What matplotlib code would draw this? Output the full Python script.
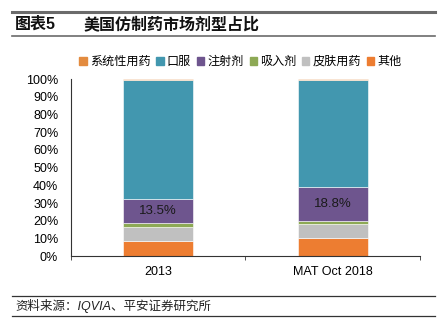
import matplotlib
matplotlib.use("Agg")
import matplotlib.pyplot as plt
from matplotlib.lines import Line2D
from matplotlib.patches import Patch

plt.rcParams['font.family'] = ['Liberation Sans', 'Noto Sans CJK SC', 'DejaVu Sans']

# 剂型占比（%），自下而上堆叠
categories = ['2013', 'MAT Oct 2018']
other = [8.5, 10.4]        # 其他
skin = [7.7, 7.7]          # 皮肤用药
inhal = [2.5, 1.9]         # 吸入剂
inject = [13.5, 18.8]      # 注射剂
oral = [67.2, 60.6]        # 口服
systemic = [0.6, 0.6]      # 系统性用药

series = [
    ('其他', other, '#ED7D31'),
    ('皮肤用药', skin, '#C0C0C0'),
    ('吸入剂', inhal, '#8DA955'),
    ('注射剂', inject, '#6E558E'),
    ('口服', oral, '#4297AF'),
    ('系统性用药', systemic, '#E38B3F'),
]

fig = plt.figure(figsize=(4.38, 3.27), dpi=100)
ax = fig.add_axes([0.1614, 0.217, 0.7976, 0.5405])

x = range(len(categories))
bottom = [0.0] * len(categories)
for name, vals, color in series:
    ax.bar(x, vals, width=0.4, bottom=bottom, color=color, edgecolor='white',
           linewidth=0.4, label=name)
    if name == '注射剂':
        for i, v in enumerate(vals):
            ax.text(i, bottom[i] + v / 2, f'{v:.1f}%', ha='center', va='center',
                    fontsize=9.5, color='#1a1a1a')
    bottom = [b + v for b, v in zip(bottom, vals)]

ax.set_xlim(-0.5, 1.5)
ax.set_ylim(0, 100)
ax.set_yticks(range(0, 101, 10))
ax.set_yticklabels([f'{t}%' for t in range(0, 101, 10)], fontsize=9)
ax.tick_params(axis='y', length=0, pad=9)
ax.set_xticks(list(x))
ax.set_xticklabels(categories, fontsize=9)
ax.tick_params(axis='x', which='major', length=0, pad=7)
ax.set_xticks([-0.5, 0.5, 1.5], minor=True)
ax.tick_params(axis='x', which='minor', length=3, direction='out', color='#333333')
for s in ['top', 'right']:
    ax.spines[s].set_visible(False)
for s in ['left', 'bottom']:
    ax.spines[s].set_color('#333333')
    ax.spines[s].set_linewidth(0.8)

# 图例顺序与堆叠相反
legend_order = ['系统性用药', '口服', '注射剂', '吸入剂', '皮肤用药', '其他']
colors = {name: c for name, _, c in series}
handles = [Patch(color=colors[n], label=n) for n in legend_order]
fig.legend(handles=handles, loc='center', bbox_to_anchor=(0.549, 1 - 62 / 327),
           ncol=6, frameon=False, fontsize=8.7, handlelength=0.6, handleheight=0.6,
           handletextpad=0.25, columnspacing=0.5)

# 标题与来源的分隔线
def hline(y_px, lw, color):
    fig.add_artist(Line2D([12 / 438, 435 / 438], [1 - y_px / 327] * 2,
                          transform=fig.transFigure, lw=lw, color=color))

hline(12, 2.2, '#6b6b6b')
hline(36, 1.2, '#6b6b6b')
hline(296, 0.9, '#333333')
hline(316, 0.9, '#333333')

fig.text(15 / 438, 1 - 24 / 327, '图表5', fontsize=11.5, fontweight='bold',
         va='center', ha='left', color='#111111')
fig.text(83 / 438, 1 - 24 / 327, '美国仿制药市场剂型占比', fontsize=11.5,
         fontweight='bold', va='center', ha='left', color='#111111')
fig.text(15 / 438, 1 - 306 / 327, '资料来源：IQVIA、平安证券研究所', fontsize=9,
         style='italic', va='center', ha='left', color='#222222')

fig.savefig('out.png', dpi=100)
